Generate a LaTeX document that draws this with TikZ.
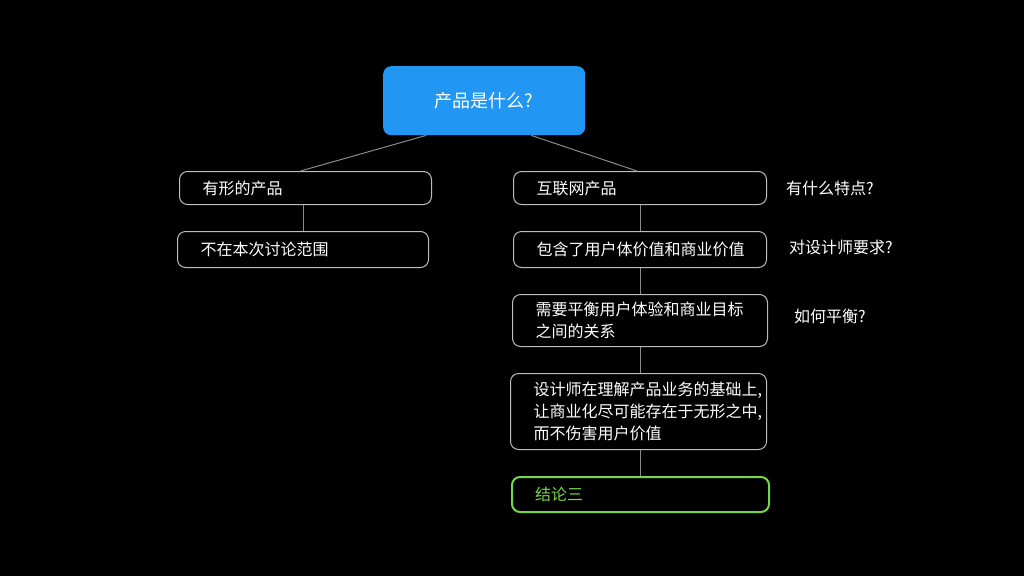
\documentclass[tikz,border=0pt]{standalone}
\usepackage{fontspec}
\setmainfont{Noto Sans CJK SC}
\begin{document}
\begin{tikzpicture}[x=1pt,y=1pt,
  box/.style={draw=boxgray, line width=1pt, rounded corners=8pt, anchor=north west,
    inner xsep=23pt, inner ysep=0pt, align=left, text=white,
    font=\fontsize{16}{22}\selectfont},
  side/.style={anchor=west, text=white, inner sep=0pt, font=\fontsize{16}{22}\selectfont},
  conn/.style={draw=linegray, line width=1pt}]
\definecolor{boxgray}{HTML}{BDBDBD}
\definecolor{linegray}{HTML}{8A8A8A}
\definecolor{topblue}{HTML}{2196F3}
\definecolor{greenc}{HTML}{78D64B}
\fill[black] (0,0) rectangle (1024,-576);
\useasboundingbox (0,0) rectangle (1024,-576);

\node[fill=topblue, rounded corners=8pt, anchor=north west, minimum width=202pt, minimum height=69pt,
  inner sep=0pt, text=white, font=\fontsize{18}{22}\selectfont] (top) at (383,-66) {产品是什么?};

\node[box, text width=206pt, minimum height=33pt] (l1) at (179,-171) {有形的产品};
\node[box, text width=205pt, minimum height=36pt] (l2) at (177,-231) {不在本次讨论范围};

\node[box, text width=207pt, minimum height=33pt] (r1) at (513,-171) {互联网产品};
\node[box, text width=207pt, minimum height=36pt] (r2) at (513,-231) {包含了用户体价值和商业价值};
\node[box, text width=209pt, minimum height=52pt] (r3) at (512,-294) {需要平衡用户体验和商业目标\\之间的关系};
\node[box, text width=210pt, minimum height=76pt] (r4) at (510,-373) {设计师在理解产品业务的基础上,\\让商业化尽可能存在于无形之中,\\而不伤害用户价值};
\node[box, draw=greenc, line width=2pt, text=greenc, text width=211pt, minimum height=35pt] (r5) at (511,-476) {结论三};

\node[side] (s1) at (786,-188) {有什么特点?};
\node[side] (s2) at (789,-247) {对设计师要求?};
\node[side] (s3) at (794,-316) {如何平衡?};

\draw[conn] ([xshift=-58pt]top.south) -- ([xshift=-5pt]l1.north);
\draw[conn] ([xshift=47pt]top.south) -- ([xshift=-3pt]r1.north);
\draw[conn] ([xshift=-2pt]l1.south) -- ([xshift=-2pt]l1.south |- l2.north);
\draw[conn] (r1.south) -- (r1.south |- r2.north);
\draw[conn] (r2.south) -- (r2.south |- r3.north);
\draw[conn] (r3.south) -- (r3.south |- r4.north);
\draw[conn] (r4.south -| r3.south) -- (r3.south |- r5.north);
\end{tikzpicture}
\end{document}
